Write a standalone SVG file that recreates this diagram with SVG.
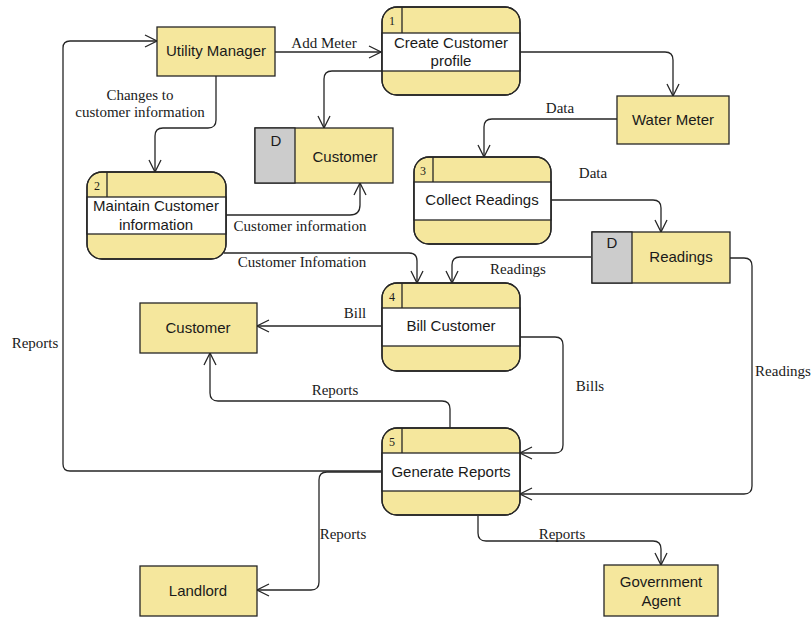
<svg xmlns="http://www.w3.org/2000/svg" width="811" height="618" viewBox="0 0 811 618">
  <defs>
    <style>
      .bg { fill: #ffffff; }
      .ent { fill: #F5E79D; stroke: #262626; stroke-width: 1.3; }
      .proc { fill: #F5E79D; stroke: #262626; stroke-width: 1.3; }
      .band { fill: #ffffff; stroke: #262626; stroke-width: 1.3; }
      .gray { fill: #CCCCCC; stroke: #262626; stroke-width: 1.3; }
      .line { fill: none; stroke: #262626; stroke-width: 1.3; }
      .lbl { font-family: "Liberation Sans", Arial, sans-serif; font-size: 15px; fill: #1a1a1a; text-anchor: middle; }
      .num { font-family: "Liberation Serif", "Times New Roman", serif; font-size: 12px; fill: #1a1a1a; text-anchor: middle; }
      .elbl { font-family: "Liberation Serif", "Times New Roman", serif; font-size: 15px; fill: #1a1a1a; text-anchor: middle; }
      .conn { fill: none; stroke: #262626; stroke-width: 1.3; marker-end: url(#open); }
    </style>
    <marker id="open" viewBox="0 0 14 14" refX="13" refY="7" markerWidth="14" markerHeight="14" markerUnits="userSpaceOnUse" orient="auto">
      <polyline points="1,1 13,7 1,13" fill="none" stroke="#262626" stroke-width="1.3"/>
    </marker>
  </defs>

  <rect class="bg" x="0" y="0" width="811" height="618"/>

  <!-- connectors -->
  <g id="connectors">
    <path class="conn" d="M381,471 L70,471 Q63,471 63,464 L63,48 Q63,41 70,41 L157,41"/>
    <path class="conn" d="M275,52 L381,52"/>
    <path class="conn" d="M382,71 L332,71 Q324,71 324,79 L324,128"/>
    <path class="conn" d="M520,52 L665,52 Q673,52 673,60 L673,96"/>
    <path class="conn" d="M617,119 L492,119 Q484,119 484,127 L484,157"/>
    <path class="conn" d="M551,200 L653,200 Q661,200 661,208 L661,232"/>
    <path class="conn" d="M216,76 L216,120 Q216,128 208,128 L163,128 Q155,128 155,136 L155,172"/>
    <path class="conn" d="M226,215 L350,215 Q360,215 360,205 L360,183"/>
    <path class="conn" d="M224,253 L409,253 Q417,253 417,261 L417,283"/>
    <path class="conn" d="M591,257 L460,257 Q452,257 452,265 L452,283"/>
    <path class="conn" d="M381,326 L257,326"/>
    <path class="conn" d="M520,337 L555,337 Q563,337 563,345 L563,445 Q563,453 555,453 L520,453"/>
    <path class="conn" d="M730,258 L744,258 Q752,258 752,266 L752,486 Q752,494 744,494 L520,494"/>
    <path class="conn" d="M450,428 L450,409 Q450,401 442,401 L218,401 Q210,401 210,393 L210,353"/>
    <path class="conn" d="M381,472 L327,472 Q319,472 319,480 L319,582 Q319,590 311,590 L257,590"/>
    <path class="conn" d="M478,516 L478,533 Q478,541 486,541 L653,541 Q661,541 661,549 L661,565"/>

    <text class="elbl" x="35" y="348">Reports</text>
    <text class="elbl" x="324" y="48">Add Meter</text>
    <text class="elbl" x="140" y="100">Changes to</text>
    <text class="elbl" x="140" y="117">customer information</text>
    <text class="elbl" x="560" y="113">Data</text>
    <text class="elbl" x="593" y="178">Data</text>
    <text class="elbl" x="300" y="231">Customer information</text>
    <text class="elbl" x="302" y="267">Customer Infomation</text>
    <text class="elbl" x="518" y="274">Readings</text>
    <text class="elbl" x="355" y="318">Bill</text>
    <text class="elbl" x="590" y="391">Bills</text>
    <text class="elbl" x="783" y="376">Readings</text>
    <text class="elbl" x="335" y="395">Reports</text>
    <text class="elbl" x="343" y="539">Reports</text>
    <text class="elbl" x="562" y="539">Reports</text>
  </g>

  <!-- external entities -->
  <g id="utility-manager">
    <rect class="ent" x="157" y="27" width="118" height="49"/>
    <text class="lbl" x="216" y="56">Utility Manager</text>
  </g>
  <g id="water-meter">
    <rect class="ent" x="617" y="96" width="112" height="48"/>
    <text class="lbl" x="673" y="125">Water Meter</text>
  </g>
  <g id="customer-entity">
    <rect class="ent" x="140" y="303" width="117" height="50"/>
    <text class="lbl" x="198" y="333">Customer</text>
  </g>
  <g id="landlord">
    <rect class="ent" x="140" y="566" width="117" height="50"/>
    <text class="lbl" x="198" y="596">Landlord</text>
  </g>
  <g id="government-agent">
    <rect class="ent" x="604" y="565" width="114" height="51"/>
    <text class="lbl" x="661" y="587">Government</text>
    <text class="lbl" x="661" y="606">Agent</text>
  </g>

  <!-- data stores -->
  <g id="store-customer">
    <rect class="ent" x="255" y="128" width="138" height="55"/>
    <rect class="gray" x="255" y="128" width="40" height="55"/>
    <text class="lbl" x="276" y="146">D</text>
    <text class="lbl" x="345" y="162">Customer</text>
  </g>
  <g id="store-readings">
    <rect class="ent" x="592" y="232" width="138" height="51"/>
    <rect class="gray" x="592" y="232" width="40" height="51"/>
    <text class="lbl" x="612" y="248">D</text>
    <text class="lbl" x="681" y="262">Readings</text>
  </g>

  <!-- processes -->
  <g id="process-1">
    <rect class="proc" x="382" y="7" width="138" height="88" rx="15"/>
    <rect class="band" x="382" y="33" width="138" height="38"/>
    <line class="line" x1="402" y1="7" x2="402" y2="33"/>
    <rect class="line" x="382" y="7" width="138" height="88" rx="15"/>
    <text class="num" x="392" y="25">1</text>
    <text class="lbl" x="451" y="48">Create Customer</text>
    <text class="lbl" x="451" y="66">profile</text>
  </g>
  <g id="process-2">
    <rect class="proc" x="87" y="172" width="139" height="87" rx="15"/>
    <rect class="band" x="87" y="197" width="139" height="37"/>
    <line class="line" x1="107" y1="172" x2="107" y2="197"/>
    <rect class="line" x="87" y="172" width="139" height="87" rx="15"/>
    <text class="num" x="97" y="190">2</text>
    <text class="lbl" x="156" y="211">Maintain Customer</text>
    <text class="lbl" x="156" y="230">information</text>
  </g>
  <g id="process-3">
    <rect class="proc" x="414" y="157" width="137" height="87" rx="15"/>
    <rect class="band" x="414" y="182" width="137" height="38"/>
    <line class="line" x1="433" y1="157" x2="433" y2="182"/>
    <rect class="line" x="414" y="157" width="137" height="87" rx="15"/>
    <text class="num" x="423" y="175">3</text>
    <text class="lbl" x="482" y="205">Collect Readings</text>
  </g>
  <g id="process-4">
    <rect class="proc" x="382" y="283" width="138" height="88" rx="15"/>
    <rect class="band" x="382" y="308" width="138" height="38"/>
    <line class="line" x1="402" y1="283" x2="402" y2="308"/>
    <rect class="line" x="382" y="283" width="138" height="88" rx="15"/>
    <text class="num" x="392" y="301">4</text>
    <text class="lbl" x="451" y="331">Bill Customer</text>
  </g>
  <g id="process-5">
    <rect class="proc" x="382" y="428" width="138" height="87" rx="15"/>
    <rect class="band" x="382" y="453" width="138" height="38"/>
    <line class="line" x1="402" y1="428" x2="402" y2="453"/>
    <rect class="line" x="382" y="428" width="138" height="87" rx="15"/>
    <text class="num" x="392" y="446">5</text>
    <text class="lbl" x="451" y="477">Generate Reports</text>
  </g>
</svg>
